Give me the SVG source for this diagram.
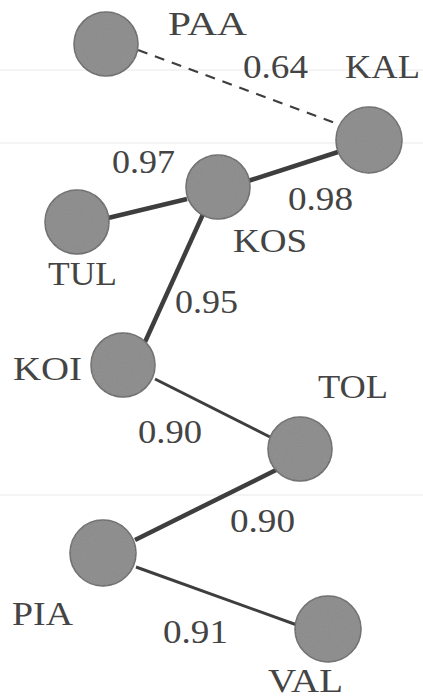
<svg xmlns="http://www.w3.org/2000/svg" width="423" height="698" viewBox="0 0 423 698">
  <defs>
    <filter id="grain" x="-10%" y="-10%" width="120%" height="120%">
      <feTurbulence type="fractalNoise" baseFrequency="0.9" numOctaves="2" seed="3" result="n"/>
      <feColorMatrix in="n" type="matrix" values="0 0 0 0 0.3  0 0 0 0 0.3  0 0 0 0 0.3  0 0 0 0.9 -0.2" result="d"/>
      <feComposite in="d" in2="SourceGraphic" operator="in" result="dm"/>
      <feMerge><feMergeNode in="SourceGraphic"/><feMergeNode in="dm"/></feMerge>
    </filter>
  </defs>
  <style>
    .node { fill: #8c8c8c; stroke: #666666; stroke-width: 1.5; filter: url(#grain); }
    .edge { stroke: #3e3e3e; fill: none; stroke-linecap: butt; }
    .thick { stroke-width: 4.5; }
    .thin { stroke-width: 3; }
    .dash { stroke-width: 2.2; stroke-dasharray: 10 8; }
    .rule { stroke: #f0f0f0; stroke-width: 1.5; }
  </style>
  <rect width="423" height="698" fill="#ffffff"/>
  <!-- faint horizontal rules -->
  <g id="rules">
    <line class="rule" x1="0" y1="70" x2="423" y2="70"/>
    <line class="rule" x1="0" y1="143" x2="423" y2="143"/>
    <line class="rule" x1="0" y1="495" x2="423" y2="495"/>
  </g>
  <g id="connectors">
    <line class="edge dash" x1="138" y1="50" x2="338" y2="124"/>
    <line class="edge thick" x1="248" y1="181" x2="338" y2="152"/>
    <line class="edge thick" x1="108" y1="218" x2="187" y2="199"/>
    <line class="edge thick" x1="204" y1="212" x2="145" y2="342"/>
    <line class="edge thin" x1="155" y1="379" x2="270" y2="437"/>
    <line class="edge thick" x1="135" y1="540" x2="280" y2="468"/>
    <line class="edge thin" x1="136" y1="567" x2="297" y2="625"/>
  </g>
  <g font-family="Liberation Serif, DejaVu Serif, serif" font-size="33" fill="#444444">
    <g id="edge-labels">
      <text x="243" y="78" textLength="65" lengthAdjust="spacingAndGlyphs">0.64</text>
      <text x="112" y="173" textLength="63" lengthAdjust="spacingAndGlyphs">0.97</text>
      <text x="288" y="210" textLength="65" lengthAdjust="spacingAndGlyphs">0.98</text>
      <text x="175" y="313" textLength="63" lengthAdjust="spacingAndGlyphs">0.95</text>
      <text x="138" y="443" textLength="64" lengthAdjust="spacingAndGlyphs">0.90</text>
      <text x="230" y="532" textLength="65" lengthAdjust="spacingAndGlyphs">0.90</text>
      <text x="163" y="643" textLength="65" lengthAdjust="spacingAndGlyphs">0.91</text>
    </g>
    <g id="PAA">
      <circle class="node" cx="106" cy="44" r="32"/>
      <text x="168" y="35" textLength="79" lengthAdjust="spacingAndGlyphs">PAA</text>
    </g>
    <g id="KAL">
      <circle class="node" cx="369" cy="140" r="33"/>
      <text x="345" y="78" textLength="75" lengthAdjust="spacingAndGlyphs">KAL</text>
    </g>
    <g id="KOS">
      <circle class="node" cx="218" cy="187" r="32"/>
      <text x="233" y="252" textLength="74" lengthAdjust="spacingAndGlyphs">KOS</text>
    </g>
    <g id="TUL">
      <circle class="node" cx="77" cy="222" r="32"/>
      <text x="48" y="285" textLength="69" lengthAdjust="spacingAndGlyphs">TUL</text>
    </g>
    <g id="KOI">
      <circle class="node" cx="123" cy="365" r="32"/>
      <text x="13" y="380" textLength="69" lengthAdjust="spacingAndGlyphs">KOI</text>
    </g>
    <g id="TOL">
      <circle class="node" cx="300" cy="449" r="32"/>
      <text x="318" y="398" textLength="70" lengthAdjust="spacingAndGlyphs">TOL</text>
    </g>
    <g id="PIA">
      <circle class="node" cx="103" cy="553" r="33"/>
      <text x="12" y="625" textLength="61" lengthAdjust="spacingAndGlyphs">PIA</text>
    </g>
    <g id="VAL">
      <circle class="node" cx="328" cy="629" r="33"/>
      <text x="268" y="692" textLength="75" lengthAdjust="spacingAndGlyphs">VAL</text>
    </g>
  </g>
</svg>
